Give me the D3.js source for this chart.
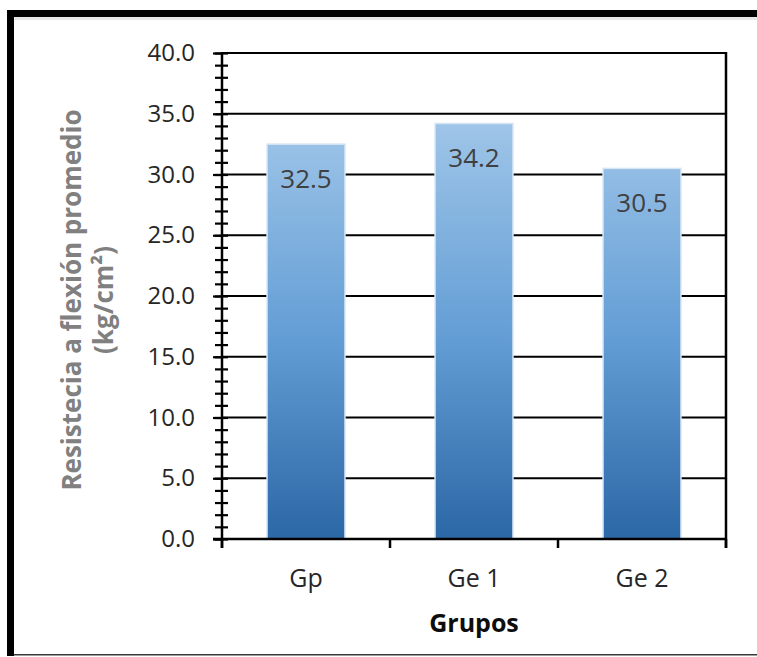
<!DOCTYPE html>
<html>
<head>
<meta charset="utf-8">
<script src="https://cdn.jsdelivr.net/npm/d3@7"></script>
<style>
  html, body { margin: 0; padding: 0; background: #fff; }
  svg { display: block; }
</style>
</head>
<body>
<svg id="chart" width="757" height="657"></svg>
<script>
// Flexural strength by group
const categories = ["Gp", "Ge 1", "Ge 2"];
const values = [32.5, 34.2, 30.5];
const yTicks = [0, 5, 10, 15, 20, 25, 30, 35, 40];
const yMinorTicks = d3.range(0, 41, 1);
const yTitleLines = ["Resistecia a flexión promedio", "(kg/cm²)"];
const xTitle = "Grupos";

const svg = d3.select("#chart");
const W = 757, H = 657;
const plot = { left: 222, right: 726, top: 53, bottom: 539 };
const font = "'Open Sans', 'Noto Sans', sans-serif";

// Outer frame: heavy black top and left edges, thin bottom edge
svg.append("rect").attr("x", 0).attr("y", 0).attr("width", W).attr("height", H).attr("fill", "#fff");
svg.append("rect").attr("x", 14).attr("y", 17).attr("width", W - 14).attr("height", 3).attr("fill", "#e6e6e6");
svg.append("rect").attr("x", 7).attr("y", 10).attr("width", W - 7).attr("height", 7).attr("fill", "#000");
svg.append("rect").attr("x", 7).attr("y", 10).attr("width", 7).attr("height", 646).attr("fill", "#000");
svg.append("rect").attr("x", 14).attr("y", 654).attr("width", W - 14).attr("height", 1.5).attr("fill", "#3a3a3a");

const x = d3.scaleBand()
  .domain(categories)
  .range([plot.left, plot.right])
  .paddingInner(0.536)
  .paddingOuter(0.268);

const y = d3.scaleLinear().domain([0, 40]).range([plot.bottom, plot.top]);

// Horizontal gridlines
svg.append("g")
  .selectAll("line")
  .data(yTicks.filter(d => d > 0))
  .join("line")
  .attr("x1", plot.left).attr("x2", plot.right)
  .attr("y1", d => y(d)).attr("y2", d => y(d))
  .attr("stroke", "#000").attr("stroke-width", 2.2);

// Right border of plot area, running down to the x tick length
svg.append("line")
  .attr("x1", plot.right).attr("x2", plot.right)
  .attr("y1", plot.top - 1).attr("y2", plot.bottom + 9)
  .attr("stroke", "#000").attr("stroke-width", 2.5);

// Bar gradient
const defs = svg.append("defs");
const grad = defs.append("linearGradient")
  .attr("id", "barGrad")
  .attr("gradientUnits", "userSpaceOnUse")
  .attr("x1", 0).attr("x2", 0)
  .attr("y1", y(34.2)).attr("y2", y(0));
grad.append("stop").attr("offset", "0%").attr("stop-color", "#9fc5e8");
grad.append("stop").attr("offset", "50%").attr("stop-color", "#659fd6");
grad.append("stop").attr("offset", "100%").attr("stop-color", "#2c67a6");

// Bars
svg.append("g")
  .selectAll("rect")
  .data(values)
  .join("rect")
  .attr("x", (d, i) => x(categories[i]))
  .attr("y", d => y(d))
  .attr("width", x.bandwidth())
  .attr("height", d => y(0) - y(d))
  .attr("fill", "url(#barGrad)")
  .attr("stroke", "#d6e6f6")
  .attr("stroke-width", 1.5);

// Value labels inside bar tops
svg.append("g")
  .selectAll("text")
  .data(values)
  .join("text")
  .attr("x", (d, i) => x(categories[i]) + x.bandwidth() / 2)
  .attr("y", d => y(d) + 34)
  .attr("text-anchor", "middle")
  .attr("dominant-baseline", "central")
  .attr("font-family", font)
  .attr("font-size", 26)
  .attr("fill", "#404040")
  .text(d => d.toFixed(1));

// X axis with category boundary ticks
const xAxis = svg.append("g").attr("transform", `translate(0,${plot.bottom})`);
xAxis.append("line")
  .attr("x1", plot.left - 9).attr("x2", plot.right)
  .attr("y1", 0).attr("y2", 0)
  .attr("stroke", "#000").attr("stroke-width", 2.5);
const boundaries = categories.map(c => x(c) - x.step() * x.paddingInner() / 2).concat([plot.right]);
xAxis.selectAll("line.bt")
  .data(boundaries)
  .join("line")
  .attr("class", "bt")
  .attr("x1", d => d).attr("x2", d => d)
  .attr("y1", 0).attr("y2", 9)
  .attr("stroke", "#000").attr("stroke-width", 2.5);
xAxis.selectAll("text")
  .data(categories)
  .join("text")
  .attr("x", d => x(d) + x.bandwidth() / 2)
  .attr("y", 38)
  .attr("text-anchor", "middle")
  .attr("dominant-baseline", "central")
  .attr("font-family", font)
  .attr("font-size", 25)
  .attr("fill", "#262626")
  .text(d => d);

// Y axis: minor cross ticks
const minor = svg.append("g")
  .attr("transform", `translate(${plot.left},0)`)
  .call(d3.axisLeft(y).tickValues(yMinorTicks).tickSize(7).tickFormat(""));
minor.select(".domain").remove();
minor.selectAll(".tick line")
  .attr("x1", 6).attr("x2", -7)
  .attr("stroke", "#000").attr("stroke-width", 2.2);

// Y axis: major ticks and labels
const major = svg.append("g")
  .attr("transform", `translate(${plot.left},0)`)
  .call(d3.axisLeft(y).tickValues(yTicks).tickSize(9).tickPadding(18).tickFormat(d3.format(".1f")));
major.select(".domain")
  .attr("d", `M0,${plot.top - 1}V${plot.bottom + 9}`)
  .attr("stroke", "#000").attr("stroke-width", 2.5);
major.selectAll(".tick line").attr("stroke", "#000").attr("stroke-width", 2.2);
major.selectAll(".tick text")
  .attr("font-family", font)
  .attr("font-size", 24)
  .attr("fill", "#262626");

// Y-axis title (two lines, rotated)
const yTitle = svg.append("text")
  .attr("transform", "translate(71,300) rotate(-90)")
  .attr("text-anchor", "middle")
  .attr("font-family", font)
  .attr("font-size", 26)
  .attr("font-weight", "bold")
  .attr("fill", "#808080");
yTitleLines.forEach((t, i) => {
  yTitle.append("tspan")
    .attr("x", 0)
    .attr("y", i * 32)
    .attr("dominant-baseline", "central")
    .text(t);
});

// X-axis title
svg.append("text")
  .attr("x", (plot.left + plot.right) / 2)
  .attr("y", 622)
  .attr("text-anchor", "middle")
  .attr("dominant-baseline", "central")
  .attr("font-family", font)
  .attr("font-size", 25)
  .attr("font-weight", "bold")
  .attr("fill", "#0d0d0d")
  .text(xTitle);
</script>
</body>
</html>
